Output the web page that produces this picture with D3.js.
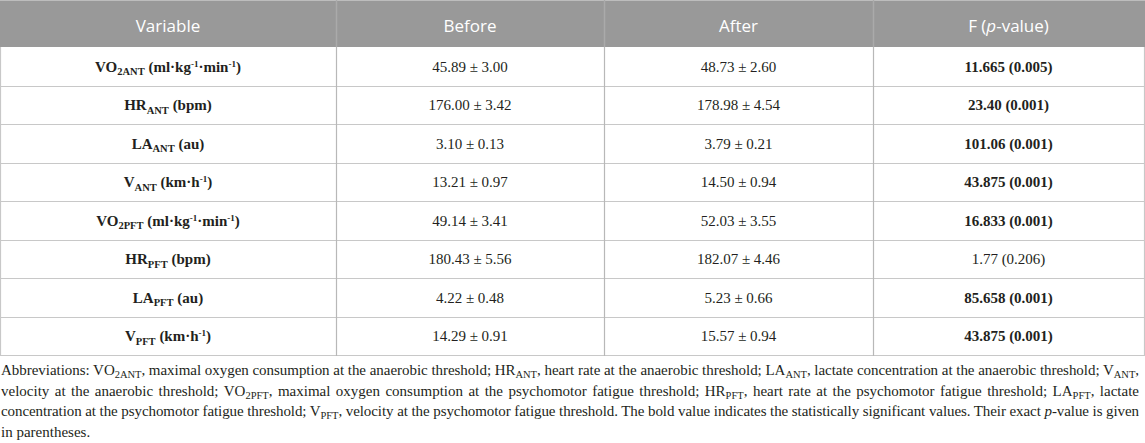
<!DOCTYPE html>
<html>
<head>
<meta charset="utf-8">
<script src="https://cdn.jsdelivr.net/npm/d3@7"></script>
<style>
  body { margin: 0; background: #fff; }
  #wrap { position: relative; width: 1145px; height: 443px; overflow: hidden; }
  svg { position: absolute; left: 0; top: 0; }
  #note { position: absolute; left: 1px; top: 360px; width: 1138px;
          font-family: "Liberation Serif", "Times New Roman", serif; font-size: 15px;
          line-height: 20.5px; color: #231f20; }
  #note .ln { white-space: nowrap; text-align: justify; text-align-last: justify; }
  #note .ln.last { text-align-last: left; }
  #note sub { font-size: 10.5px; vertical-align: -3px; line-height: 0; }
</style>
</head>
<body>
<div id="wrap"></div>
<script>
// Table content
const headers = ["Variable", "Before", "After", "F (p-value)"];
const varBase = ["VO", "HR", "LA", "V", "VO", "HR", "LA", "V"];
const varSub = ["2ANT", "ANT", "ANT", "ANT", "2PFT", "PFT", "PFT", "PFT"];
const varUnit = ["vo2", "bpm", "au", "kmh", "vo2", "bpm", "au", "kmh"];
const beforeMean = [45.89, 176.00, 3.10, 13.21, 49.14, 180.43, 4.22, 14.29];
const beforeSD = [3.00, 3.42, 0.13, 0.97, 3.41, 5.56, 0.48, 0.91];
const afterMean = [48.73, 178.98, 3.79, 14.50, 52.03, 182.07, 5.23, 15.57];
const afterSD = [2.60, 4.54, 0.21, 0.94, 3.55, 4.46, 0.66, 0.94];
const fValues = ["11.665", "23.40", "101.06", "43.875", "16.833", "1.77", "85.658", "43.875"];
const pValues = ["0.005", "0.001", "0.001", "0.001", "0.001", "0.206", "0.001", "0.001"];
const significant = [true, true, true, true, true, false, true, true];

// unit pieces: [text, isSuperscript]
const unitParts = {
  vo2: [["(ml·kg", false], ["-1", true], ["·min", false], ["-1", true], [")", false]],
  bpm: [["(bpm)", false]],
  au: [["(au)", false]],
  kmh: [["(km·h", false], ["-1", true], [")", false]]
};

const width = 1145, tableBottom = 355, headH = 47;
const colEdges = [0, 336, 604, 873, 1144];
const fmt = d3.format(".2f");
const serif = "'Liberation Serif', 'Times New Roman', serif";
const ink = "#231f20", grid = "#c8c8c8";

const svg = d3.select("#wrap").append("svg")
  .attr("width", width)
  .attr("height", tableBottom + 2);

const rowY = d3.scaleBand()
  .domain(d3.range(varBase.length))
  .range([headH, tableBottom]);

const colMid = i => (colEdges[i] + colEdges[i + 1]) / 2;

// header
svg.append("rect")
  .attr("x", 0).attr("y", 0)
  .attr("width", colEdges[4] + 1).attr("height", headH)
  .attr("fill", "#999999");
svg.append("line")
  .attr("x1", 0).attr("x2", colEdges[4] + 1)
  .attr("y1", 0.5).attr("y2", 0.5)
  .attr("stroke", "#bdbdbd");

const head = svg.selectAll(".head")
  .data(headers)
  .enter()
  .append("text")
  .attr("class", "head")
  .attr("x", (d, i) => colMid(i))
  .attr("y", 32)
  .attr("text-anchor", "middle")
  .attr("fill", "#fff")
  .attr("font-family", "'Open Sans', sans-serif")
  .attr("font-size", 17);
head.each(function(d) {
  const t = d3.select(this);
  if (d.startsWith("F (")) {
    t.append("tspan").text("F (");
    t.append("tspan").attr("font-style", "italic").text("p");
    t.append("tspan").text("-value)");
  } else {
    t.text(d);
  }
});

// grid lines
const hLines = rowY.domain().map(i => rowY(i) + rowY.bandwidth());
svg.selectAll(".hline")
  .data(hLines)
  .enter()
  .append("line")
  .attr("class", "hline")
  .attr("x1", 0).attr("x2", colEdges[4] + 1)
  .attr("y1", d => Math.round(d) + 0.5).attr("y2", d => Math.round(d) + 0.5)
  .attr("stroke", grid).attr("stroke-width", 1.2);

svg.selectAll(".vline")
  .data(colEdges)
  .enter()
  .append("line")
  .attr("class", "vline")
  .attr("x1", d => d + 0.5).attr("x2", d => d + 0.5)
  .attr("y1", (d, i) => (i === 0 || i === 4) ? headH : 0)
  .attr("y2", tableBottom + 1)
  .attr("stroke", (d, i) => (i === 0 || i === 4) ? grid : "#b8b8b8")
  .attr("stroke-width", 1.2);
// separators inside header are slightly lighter
svg.selectAll(".hsep")
  .data(colEdges.slice(1, 4))
  .enter()
  .append("line")
  .attr("x1", d => d + 0.5).attr("x2", d => d + 0.5)
  .attr("y1", 0).attr("y2", headH)
  .attr("stroke", "#aaaaaa").attr("stroke-width", 1.2);

// rows
const rows = svg.selectAll(".row")
  .data(rowY.domain())
  .enter()
  .append("g")
  .attr("class", "row")
  .attr("transform", i => `translate(0,${rowY(i) + rowY.bandwidth() / 2 + 5.5})`);

// variable labels
rows.append("text")
  .attr("x", colMid(0))
  .attr("text-anchor", "middle")
  .attr("font-family", serif)
  .attr("font-size", 15)
  .attr("font-weight", "bold")
  .attr("fill", ink)
  .each(function(i) {
    const t = d3.select(this);
    t.append("tspan").text(varBase[i]);
    t.append("tspan").attr("dy", 3.5).attr("font-size", 10.5).text(varSub[i]);
    let shift = -3.5, first = true;
    unitParts[varUnit[i]].forEach(([txt, sup]) => {
      const s = t.append("tspan");
      if (sup) {
        s.attr("dy", shift - 5).attr("font-size", 9).text(txt);
        shift = 5;
      } else {
        s.attr("dy", shift).text((first ? "\u00a0" : "") + txt);
        shift = 0;
      }
      first = false;
    });
  });

// before / after
[[beforeMean, beforeSD], [afterMean, afterSD]].forEach(([m, sd], c) => {
  rows.append("text")
    .attr("x", colMid(c + 1))
    .attr("text-anchor", "middle")
    .attr("font-family", serif)
    .attr("font-size", 15)
    .attr("fill", ink)
    .text(i => `${fmt(m[i])} ± ${fmt(sd[i])}`);
});

// F (p-value)
rows.append("text")
  .attr("x", colMid(3))
  .attr("text-anchor", "middle")
  .attr("font-family", serif)
  .attr("font-size", 15)
  .attr("font-weight", i => significant[i] ? "bold" : "normal")
  .attr("fill", ink)
  .text(i => `${fValues[i]} (${pValues[i]})`);

// footnote
const noteLines = [
  "Abbreviations: VO<sub>2ANT</sub>, maximal oxygen consumption at the anaerobic threshold; HR<sub>ANT</sub>, heart rate at the anaerobic threshold; LA<sub>ANT</sub>, lactate concentration at the anaerobic threshold; V<sub>ANT</sub>,",
  "velocity at the anaerobic threshold; VO<sub>2PFT</sub>, maximal oxygen consumption at the psychomotor fatigue threshold; HR<sub>PFT</sub>, heart rate at the psychomotor fatigue threshold; LA<sub>PFT</sub>, lactate",
  "concentration at the psychomotor fatigue threshold; V<sub>PFT</sub>, velocity at the psychomotor fatigue threshold. The bold value indicates the statistically significant values. Their exact <i>p</i>-value is given",
  "in parentheses."
];
const note = d3.select("#wrap").append("div").attr("id", "note");
note.selectAll(".ln")
  .data(noteLines)
  .enter()
  .append("div")
  .attr("class", (d, i) => i === noteLines.length - 1 ? "ln last" : "ln")
  .html(d => d)
  .each(function() {
    // squeeze a little if the natural line is wider than the box
    const probe = document.createElement("span");
    probe.innerHTML = this.innerHTML;
    probe.style.whiteSpace = "nowrap";
    this.parentNode.appendChild(probe);
    const w = probe.getBoundingClientRect().width;
    probe.remove();
    if (w > 1138) {
      this.style.letterSpacing = ((1138 - w) / this.textContent.length) + "px";
    }
  });
</script>
</body>
</html>
